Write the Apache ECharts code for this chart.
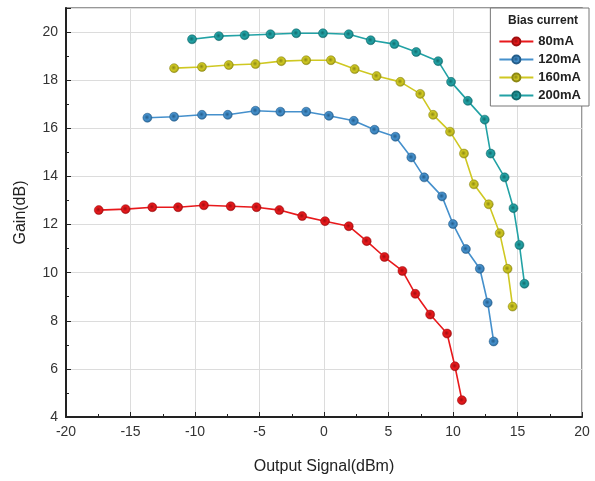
<!DOCTYPE html>
<html>
<head>
<meta charset="utf-8">
<script src="https://cdn.jsdelivr.net/npm/echarts@6/dist/echarts.min.js"></script>
<style>
  html, body { margin: 0; padding: 0; background: #fff; }
  #chart { width: 595px; height: 481px; }
</style>
</head>
<body>
<div id="chart"></div>
<script>
// 80mA
var x80 = [-17.46, -15.38, -13.31, -11.31, -9.31, -7.23, -5.23, -3.46, -1.69, 0.08, 1.92, 3.31, 4.69, 6.08, 7.08, 8.23, 9.54, 10.15, 10.69];
var y80 = [12.60, 12.64, 12.72, 12.72, 12.80, 12.76, 12.72, 12.60, 12.35, 12.14, 11.93, 11.31, 10.65, 10.07, 9.12, 8.26, 7.47, 6.11, 4.70];
// 120mA
var x120 = [-13.69, -11.62, -9.46, -7.46, -5.31, -3.38, -1.38, 0.38, 2.31, 3.92, 5.54, 6.77, 7.77, 9.15, 10.0, 11.0, 12.08, 12.69, 13.15];
var y120 = [16.44, 16.48, 16.56, 16.56, 16.73, 16.69, 16.69, 16.52, 16.31, 15.94, 15.65, 14.79, 13.96, 13.17, 12.02, 10.98, 10.16, 8.75, 7.14];
// 160mA
var x160 = [-11.62, -9.46, -7.38, -5.31, -3.31, -1.38, 0.54, 2.38, 4.08, 5.92, 7.46, 8.46, 9.77, 10.85, 11.62, 12.77, 13.62, 14.23, 14.62];
var y160 = [18.50, 18.55, 18.63, 18.67, 18.79, 18.83, 18.83, 18.46, 18.17, 17.93, 17.43, 16.56, 15.86, 14.95, 13.67, 12.84, 11.64, 10.16, 8.59];
// 200mA
var x200 = [-10.23, -8.15, -6.15, -4.15, -2.15, -0.08, 1.92, 3.62, 5.46, 7.15, 8.85, 9.85, 11.15, 12.46, 12.92, 14.0, 14.69, 15.15, 15.54];
var y200 = [19.70, 19.83, 19.87, 19.91, 19.95, 19.95, 19.91, 19.66, 19.50, 19.17, 18.79, 17.93, 17.14, 16.36, 14.95, 13.96, 12.68, 11.15, 9.54];

var names = ['80mA', '120mA', '160mA', '200mA'];
var colors = ['#e8191c', '#4590cc', '#cfc822', '#22a2a5'];
var darks = ['#a00e10', '#245d8a', '#8d8814', '#136b6d'];

function pairs(xs, ys) {
  var out = [];
  for (var i = 0; i < xs.length; i++) out.push([xs[i], ys[i]]);
  return out;
}

var seriesData = [pairs(x80, y80), pairs(x120, y120), pairs(x160, y160), pairs(x200, y200)];

var chart = echarts.init(document.getElementById('chart'));

var series = [];
for (var i = 0; i < names.length; i++) {
  series.push({
    name: names[i],
    type: 'line',
    data: seriesData[i],
    symbol: 'circle',
    symbolSize: 9,
    lineStyle: { color: colors[i], width: 1.6 },
    itemStyle: {
      color: new echarts.graphic.RadialGradient(0.45, 0.45, 0.6, [
        { offset: 0, color: darks[i] },
        { offset: 0.5, color: colors[i] },
        { offset: 1, color: darks[i] }
      ]),
      borderColor: darks[i],
      borderWidth: 0.5
    }
  });
}

var option = {
  animation: false,
  title: {
    text: 'Bias current',
    right: 12,
    top: 10,
    textStyle: { fontSize: 12, fontWeight: 'bold', color: '#222', fontFamily: 'Liberation Sans' }
  },
  legend: {
    data: names,
    orient: 'vertical',
    right: 6,
    top: 8,
    padding: [27, 8, 4, 8],
    itemGap: 5,
    itemWidth: 34,
    itemHeight: 10,
    borderColor: '#777',
    borderWidth: 1,
    backgroundColor: '#fff',
    textStyle: { fontSize: 13, fontWeight: 'bold', color: '#222', fontFamily: 'Liberation Sans' }
  },
  grid: {
    left: 66,
    right: 13,
    top: 8,
    bottom: 64,
    show: true,
    borderColor: '#777',
    borderWidth: 1.5
  },
  xAxis: {
    type: 'value',
    min: -20,
    max: 20,
    interval: 5,
    name: 'Output Signal(dBm)',
    nameLocation: 'middle',
    nameGap: 42,
    nameTextStyle: { fontSize: 16, color: '#222', fontFamily: 'Liberation Sans' },
    axisLine: { onZero: false, lineStyle: { color: '#222', width: 2 } },
    axisTick: { inside: true, length: 5, lineStyle: { color: '#222' } },
    minorTick: { show: true, splitNumber: 2, length: 3, lineStyle: { color: '#222' } },
    axisLabel: { fontSize: 14, color: '#333', fontFamily: 'Liberation Sans', margin: 8 },
    splitLine: { show: true, lineStyle: { color: '#dcdcdc', width: 1 } }
  },
  yAxis: {
    type: 'value',
    min: 4,
    max: 21,
    interval: 2,
    name: 'Gain(dB)',
    nameLocation: 'middle',
    nameGap: 37,
    nameTextStyle: { fontSize: 16, color: '#222', fontFamily: 'Liberation Sans' },
    axisLine: { onZero: false, lineStyle: { color: '#222', width: 2 } },
    axisTick: { inside: true, length: 5, lineStyle: { color: '#222' } },
    minorTick: { show: true, splitNumber: 2, length: 3, lineStyle: { color: '#222' } },
    axisLabel: { fontSize: 14, color: '#333', fontFamily: 'Liberation Sans', showMaxLabel: false, margin: 8 },
    splitLine: { show: true, lineStyle: { color: '#dcdcdc', width: 1 } }
  },
  series: series
};

chart.setOption(option);
</script>
</body>
</html>
